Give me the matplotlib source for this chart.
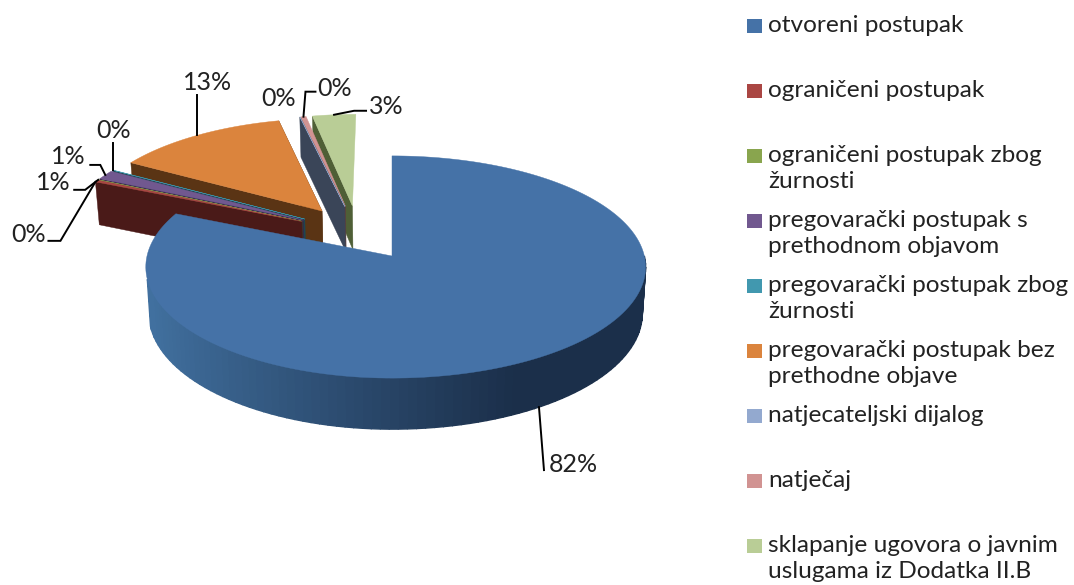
import numpy as np
import matplotlib
matplotlib.use("Agg")
import matplotlib.pyplot as plt
from matplotlib.patches import Rectangle
from matplotlib.colors import to_rgb

categories = [
    "otvoreni postupak",
    "ograničeni postupak",
    "ograničeni postupak zbog\nžurnosti",
    "pregovarački postupak s\nprethodnom objavom",
    "pregovarački postupak zbog\nžurnosti",
    "pregovarački postupak bez\nprethodne objave",
    "natjecateljski dijalog",
    "natječaj",
    "sklapanje ugovora o javnim\nuslugama iz Dodatka II.B",
]
values = [81.53, 0.3, 0.05, 1.4, 0.05, 13.0, 0.03, 0.39, 3.25]
value_labels = ["82%", "0%", "1%", "1%", "0%", "13%", "0%", "0%", "3%"]
colors = ["#4572a7", "#aa4643", "#89a54e", "#71588f", "#4198af",
          "#db843d", "#93a9cf", "#d19392", "#b9cd96"]
wall_colors = ["#1b2f4a", "#4a1a18", "#3d4a22", "#35284a", "#1d4650",
               "#5a3414", "#3a4558", "#5e3e3d", "#4f5f36"]

plt.rcParams['font.family'] = ['Lato', 'DejaVu Sans']

# pixel-sized axes, y going down like the picture
fig = plt.figure(figsize=(10.74, 5.85), dpi=100)
ax = fig.add_axes([0, 0, 1, 1])
ax.set_xlim(0, 1074)
ax.set_ylim(585, 0)
ax.axis('off')

# perspective of the tilted pie
CX, CY = 392, 256
RX, RY, PERSP = 245, 110, 0.099
DEPTH = 46
EXPLODE = 0.26


def project(u, v, bottom=False):
    w = 1 + PERSP * v
    x, y = RX * u / w, -RY * v / w
    if bottom:
        return CX + x * 0.987, CY + y + DEPTH / w
    return CX + x, CY + y


# angles clockwise from the top, radians
shares = np.array(values) / sum(values) * 2 * np.pi
ends = np.cumsum(shares)
starts = ends - shares
mids = (starts + ends) / 2
# every slice is pulled out, origin sits on the blue tip
apex_u = EXPLODE * (np.sin(mids) - np.sin(mids[0]))
apex_v = EXPLODE * (np.cos(mids) - np.cos(mids[0]))


def rim_uv(i, t):
    s = np.sin(t)
    if i == 0:
        s = np.where(s > 0, s * 1.03, s)  # blue is a bit wider on the right
    return apex_u[i] + s, apex_v[i] + np.cos(t)


def radial_wall(i, t, color):
    ru, rv = rim_uv(i, t)
    a = project(apex_u[i], apex_v[i])
    b = project(ru, rv)
    c = project(ru, rv, bottom=True)
    d = project(apex_u[i], apex_v[i], bottom=True)
    ax.fill(*zip(a, b, c, d), color=color, lw=0.3, zorder=i_order[i])


def top_face(i):
    t = np.linspace(starts[i], ends[i], 200)
    ru, rv = rim_uv(i, t)
    xs, ys = project(ru, rv)
    ax_, ay_ = project(apex_u[i], apex_v[i])
    ax.fill(np.r_[ax_, xs], np.r_[ay_, ys], color=colors[i], lw=0.3,
            zorder=i_order[i] + 0.5)


# back slices first
i_order = {8: 2, 7: 3, 6: 4, 5: 5, 4: 6, 3: 7, 2: 8, 1: 9, 0: 20}
for i in range(1, 9):
    radial_wall(i, starts[i], wall_colors[i])
    if i == 5:
        radial_wall(i, ends[i], wall_colors[i])
    top_face(i)
top_face(0)

# front of the blue slice, shaded left to right
left = np.array(to_rgb("#41709f"))
right = np.array(to_rgb("#1b2f4a"))
edges = np.linspace(np.pi / 2, np.deg2rad(258), 90)
for a, b in zip(edges[:-1], edges[1:]):
    ua, va = rim_uv(0, a)
    ub, vb = rim_uv(0, b)
    p1, p2 = project(ua, va), project(ub, vb)
    p3, p4 = project(ub, vb, bottom=True), project(ua, va, bottom=True)
    f = np.clip((np.sin(a) + 0.95) / 1.4, 0, 1)
    ax.fill(*zip(p1, p2, p3, p4), color=left + (right - left) * f, lw=1.0,
            zorder=19)

# leader lines: rim angle, steps away from the rim, label position
leaders = {
    0: (2.57, [(5, 63)], (549, 464, 'left')),
    1: (starts[1], [(-35, 59), (-47, 59)], (46, 235, 'right')),
    2: (mids[2], [(-13, 10), (-24, 10)], (71, 182, 'right')),
    3: (mids[3], [(-5, -10), (-15, -10)], (86, 157, 'right')),
    4: (mids[4], [(0, -27)], (114, 130, 'center')),
    5: (mids[5], [(0, -40)], (208, 82, 'center')),
    6: (mids[6], [], (279, 98, 'center')),
    7: (mids[7], [(2, -25), (12, -25)], (317, 88, 'left')),
    8: (mids[8], [(20, -4), (32, -4)], (369, 106, 'left')),
}
for i, (t, steps, (tx, ty, ha)) in leaders.items():
    ru, rv = rim_uv(i, t)
    x0, y0 = project(ru, rv, bottom=(i == 0))
    xs = [x0] + [x0 + dx for dx, dy in steps]
    ys = [y0] + [y0 + dy for dx, dy in steps]
    if steps:
        ax.plot(xs, ys, color='black', lw=1.4, zorder=30, solid_joinstyle='miter')
    ax.text(tx, ty, value_labels[i], ha=ha, va='center', fontsize=18,
            color='#222222', zorder=31)

# legend, one entry per fixed slot
slots = [26, 91, 156, 221, 286, 351, 416, 481, 546]
for name, col, y in zip(categories, colors, slots):
    ax.add_patch(Rectangle((747, y - 7), 15, 14, facecolor=col, edgecolor='none'))
    ax.text(768, y - 11, name, ha='left', va='top', fontsize=17.6, color='#222222',
            linespacing=1.27)

fig.savefig("out.png", dpi=100)
